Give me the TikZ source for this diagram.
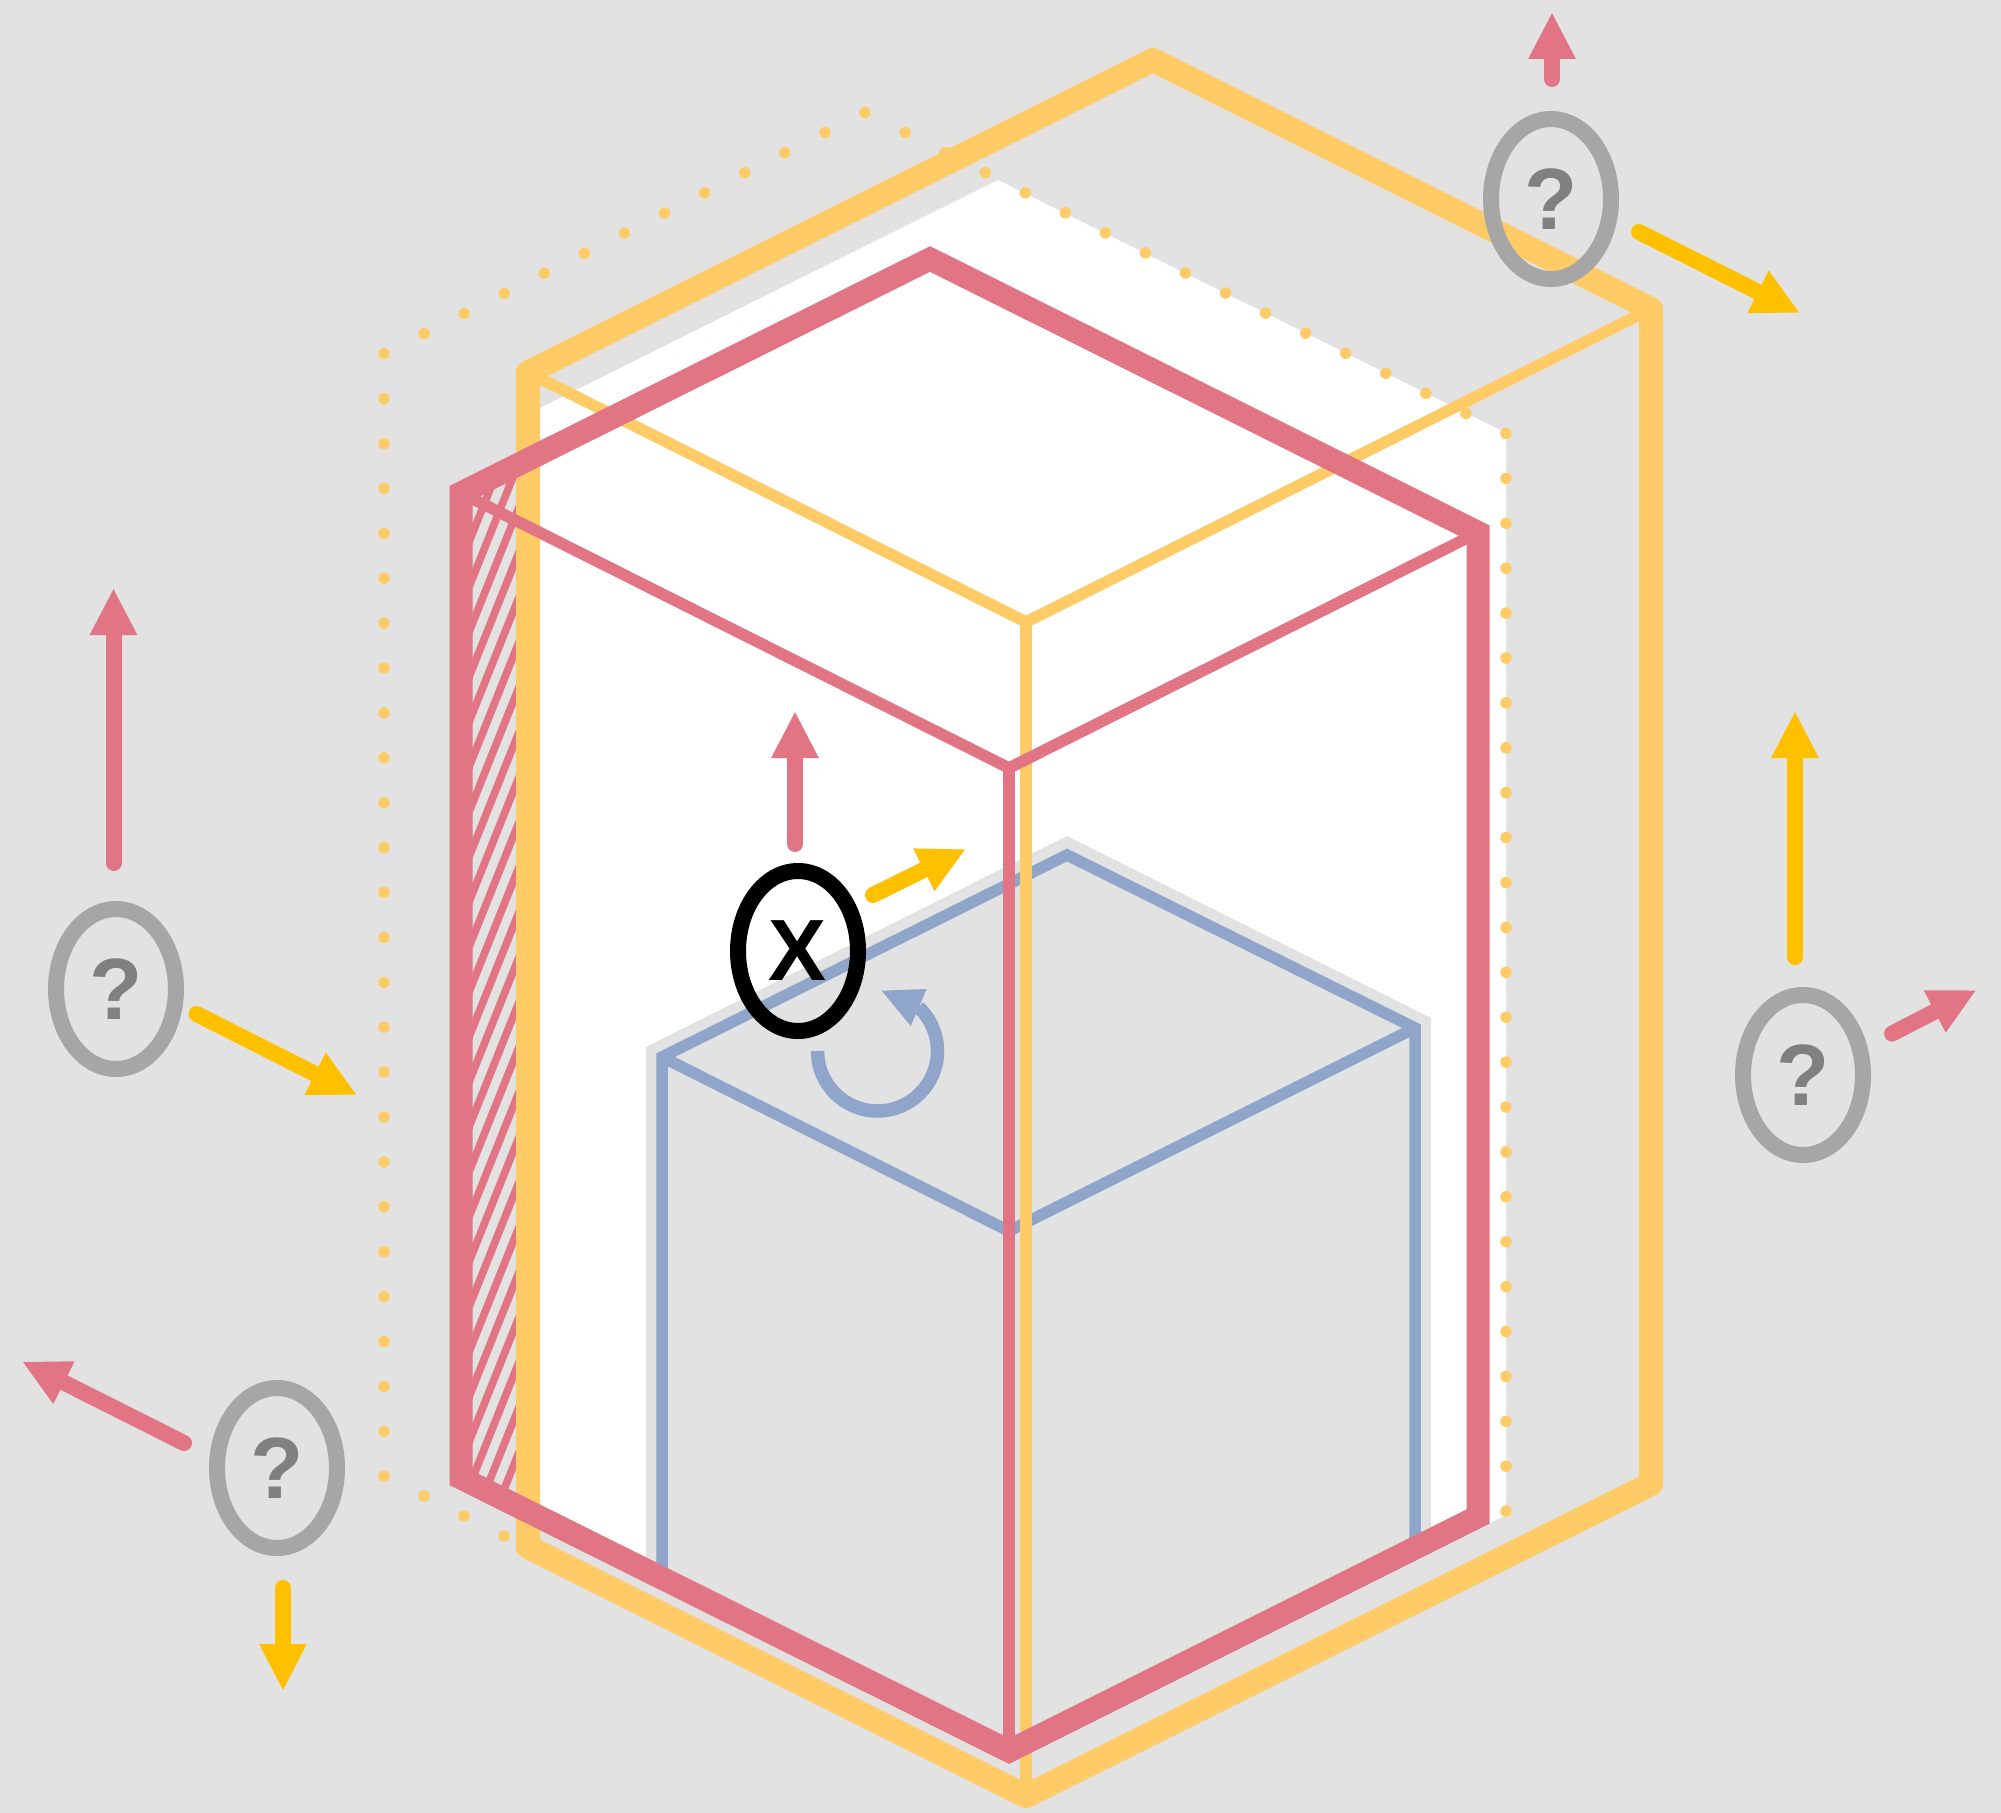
\documentclass[tikz,border=0pt]{standalone}
\usepackage{fontspec}
\setmainfont{Liberation Sans}
\usetikzlibrary{arrows.meta,shapes.geometric}
\definecolor{bgc}{HTML}{E2E2E2}
\definecolor{pinkc}{HTML}{E27584}
\definecolor{softy}{HTML}{FECB66}
\definecolor{ambery}{HTML}{FFC000}
\definecolor{bluec}{HTML}{8FA5C9}
\definecolor{ringg}{HTML}{A6A6A6}
\definecolor{markg}{HTML}{808080}
\tikzset{
  thickyellow/.style={draw=softy,line width=12pt,line join=round},
  thinyellow/.style={draw=softy,line width=5.75pt},
  thickpink/.style={draw=pinkc,line width=11.5pt,line join=miter},
  thinpink/.style={draw=pinkc,line width=5.75pt,line join=miter},
  bluepath/.style={draw=bluec,line width=5.75pt,line join=miter},
  flatarrow/.style={line width=8pt,line cap=round,-{Triangle[length=23.5pt,width=22pt]}},
  pinkarrow/.style={flatarrow,draw=pinkc,color=pinkc},
  amberarrow/.style={flatarrow,draw=ambery,color=ambery},
  unknownring/.style={ellipse,draw=ringg,line width=8pt,minimum width=60pt,minimum height=80pt,inner sep=0pt,outer sep=0pt,
    text=markg,font=\fontsize{43.5}{50}\selectfont\bfseries},
  knownring/.style={unknownring,draw=black,text=black},
  dotmark/.style={fill=softy}
}
\begin{document}
\begin{tikzpicture}[x=0.5pt,y=-0.5pt]
\useasboundingbox (0,0) rectangle (2001,1813);
\fill[bgc] (0,0) rectangle (2001,1813);
% white room
\fill[white] (528,414) -- (998,180) -- (1506,433) -- (1506,1515) -- (1478,1529) -- (1009,1751) -- (528,1512) -- cycle;
% grey inner box
\fill[bgc] (646,1047) -- (1067,836) -- (1431,1018) -- (1431,1541) -- (1009,1751) -- (646,1570) -- cycle;
% dotted outline
\foreach \k in {0,...,25} \fill[dotmark] ({384},{353.7+44.9*\k}) circle[radius=5.75];
\foreach \k in {1,...,12} \fill[dotmark] ({384+40.08*\k},{353.7-20.1*\k}) circle[radius=5.75];
\foreach \k in {1,...,16} \fill[dotmark] ({865+40.06*\k},{112.5+20.06*\k}) circle[radius=5.75];
\foreach \k in {1,...,24} \fill[dotmark] ({1506},{433.5+44.9*\k}) circle[radius=5.75];
\foreach \k in {1,2,3} \fill[dotmark] ({384+40*\k},{1476+20*\k}) circle[radius=5.75];
% hatching
\begin{scope}
\clip (461,493) -- (528,459) -- (528,1511) -- (461,1478) -- cycle;
\foreach \k in {-13,...,14}
  \draw[pinkc,line width=3.8pt] ({461},{937+45*\k+30}) -- ({530},{937+45*\k-142.5});
\end{scope}
% blue box
\draw[bluepath] (662,1570) -- (662,1057) -- (1067,855) -- (1415,1028) -- (1415,1541);
\draw[bluepath] (662,1057) -- (1009,1231) -- (1415,1028);
% yellow box
\draw[thickyellow] (528,372.5) -- (1153,60) -- (1651,309) -- (1651,1484) -- (1026,1796) -- (528,1547) -- cycle;
\draw[thinyellow] (528,372.5) -- (1026,622) -- (1651,309);
\draw[thinyellow] (1026,622) -- (1026,1796);
% pink box
\draw[thickpink] (461,493) -- (930,259) -- (1478,532.5) -- (1478,1516.5) -- (1009,1751) -- (461,1478) -- cycle;
\draw[thinpink] (461,493) -- (1009,768) -- (1478,532.5);
\draw[thinpink] (1009,768) -- (1009,1751);
% blue turn arrow
\coordinate (turnstart) at (817.5,1051);
\draw[bluec,line width=6.75pt] (turnstart) arc[start angle=180,end angle=-47,radius=60];
\fill[bluec] (881.7,990.7) -- (926.7,989) -- (910.7,1026) -- cycle;
% rings
\node[knownring] (xring) at (798,951) {X};
\node[unknownring] (qtop) at (1551,199) {?};
\node[unknownring] (qleft) at (116,989) {?};
\node[unknownring] (qright) at (1803,1075) {?};
\node[unknownring] (qbottom) at (277,1468) {?};
% arrow ends
\coordinate (a1s) at (1552,79);   \coordinate (a1e) at (1552,12);
\coordinate (a2s) at (1639,232);  \coordinate (a2e) at (1800,313);
\coordinate (a3s) at (795,844);   \coordinate (a3e) at (795,711);
\coordinate (a4s) at (873,895);   \coordinate (a4e) at (966,849);
\coordinate (a5s) at (113.5,863); \coordinate (a5e) at (113.5,588);
\coordinate (a6s) at (196.5,1014);\coordinate (a6e) at (357,1095);
\coordinate (a7s) at (1795,957);  \coordinate (a7e) at (1795,711);
\coordinate (a8s) at (1892,1033.6);\coordinate (a8e) at (1976.5,990);
\coordinate (a9s) at (184,1443);  \coordinate (a9e) at (22,1361.5);
\coordinate (a10s) at (283,1588); \coordinate (a10e) at (283,1691);
\draw[pinkarrow] (a1s) -- (a1e);
\draw[amberarrow] (a2s) -- (a2e);
\draw[pinkarrow] (a3s) -- (a3e);
\draw[amberarrow] (a4s) -- (a4e);
\draw[pinkarrow] (a5s) -- (a5e);
\draw[amberarrow] (a6s) -- (a6e);
\draw[amberarrow] (a7s) -- (a7e);
\draw[pinkarrow] (a8s) -- (a8e);
\draw[pinkarrow] (a9s) -- (a9e);
\draw[amberarrow] (a10s) -- (a10e);
\end{tikzpicture}
\end{document}
